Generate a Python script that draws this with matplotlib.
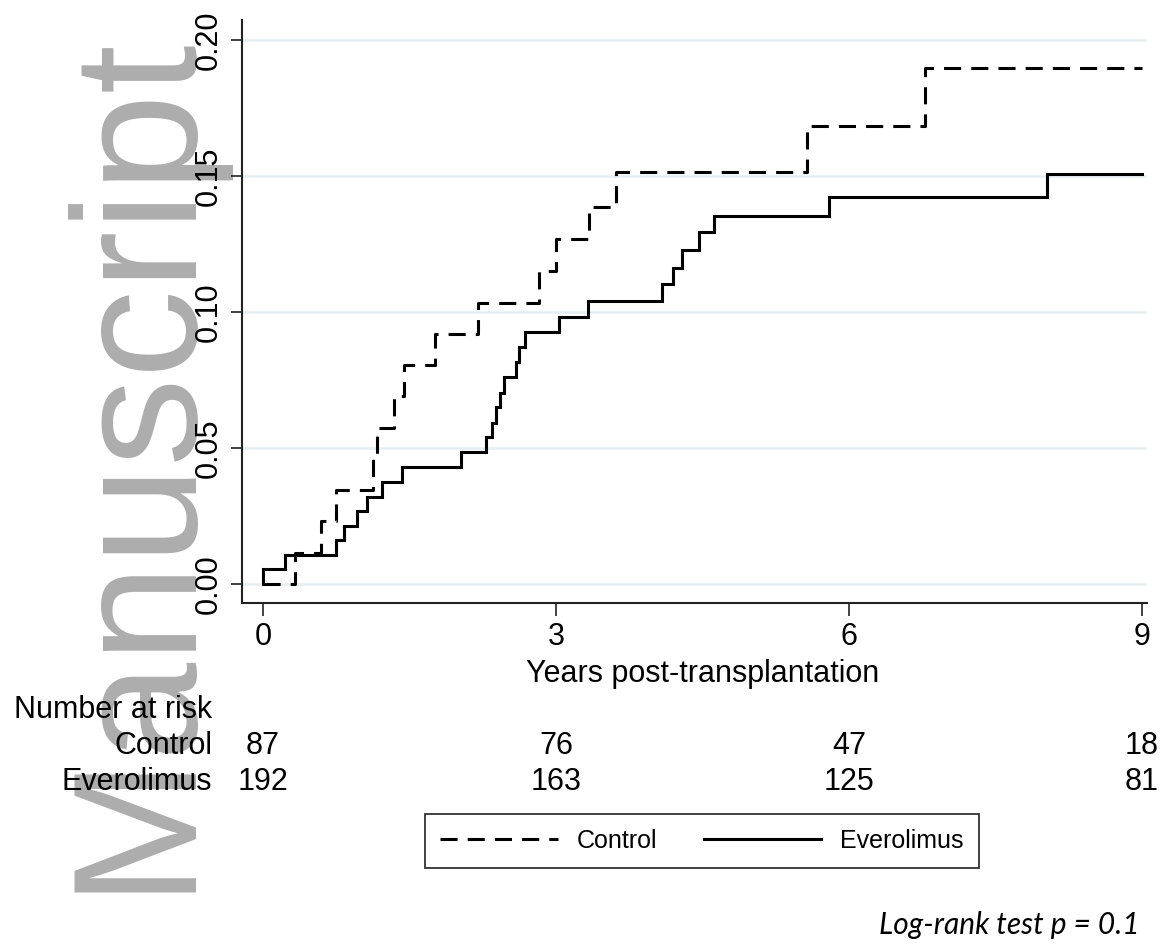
import matplotlib
matplotlib.use("Agg")
import matplotlib.pyplot as plt
from matplotlib.lines import Line2D
from matplotlib.transforms import blended_transform_factory

# ---------------- data ----------------
control_t = [0, 0.33, 0.59, 0.75, 1.13, 1.17, 1.34, 1.44, 1.76, 2.20, 2.83, 3.00,
             3.34, 3.61, 5.57, 6.78, 9.0]
control_y = [0, 0.0115, 0.0232, 0.0345, 0.046, 0.0575, 0.069, 0.0805, 0.092, 0.1034,
             0.1150, 0.1268, 0.1385, 0.1514, 0.1686, 0.1896, 0.1896]

evero_t = [0, 0, 0.225, 0.75, 0.83, 0.965, 1.06, 1.22, 1.42, 2.03, 2.28, 2.34, 2.39,
           2.43, 2.47, 2.59, 2.62, 2.68, 3.03, 3.33, 4.08, 4.20, 4.29, 4.46, 4.62,
           5.79, 8.03, 9.0]
evero_y = [0, 0.0054, 0.0105, 0.0162, 0.0213, 0.0267, 0.0319, 0.0375, 0.0429, 0.0484,
           0.0539, 0.0593, 0.0650, 0.0703, 0.0760, 0.0815, 0.0870, 0.0925, 0.0983,
           0.1039, 0.1102, 0.1163, 0.1228, 0.1293, 0.1355, 0.1424, 0.1507, 0.1507]

x_ticks = [0, 3, 6, 9]
y_ticks = [0.00, 0.05, 0.10, 0.15, 0.20]
y_tick_labels = ["0.00", "0.05", "0.10", "0.15", "0.20"]
risk_times = [0, 3, 6, 9]
risk_control = [87, 76, 47, 18]
risk_evero = [192, 163, 125, 81]
series_names = ["Control", "Everolimus"]

# ---------------- figure ----------------
W, H = 1171, 947
plt.rcParams['font.family'] = ['Liberation Sans', 'DejaVu Sans']
fig = plt.figure(figsize=(W / 100, H / 100), dpi=100)
fig.patch.set_facecolor('white')

def fx(px):
    return px / W

def fy(py):
    return 1 - py / H

ax = fig.add_axes([fx(242), fy(603), fx(1147) - fx(242), fy(20) - fy(603)])
ax.patch.set_alpha(0)
ax.set_xlim(-0.215, 9.05)
ax.set_ylim(-0.007, 0.2074)

lw = 2.2
dash = (0, (5.6, 3.3))
ax.step(control_t, control_y, where='post', color='black', lw=lw, linestyle=dash,
        solid_joinstyle='miter', dash_capstyle='butt')
ax.step(evero_t, evero_y, where='post', color='black', lw=lw,
        solid_joinstyle='miter')

for s in ['top', 'right']:
    ax.spines[s].set_visible(False)
for s in ['left', 'bottom']:
    ax.spines[s].set_linewidth(1.5)
    ax.spines[s].set_color('#222222')

ax.set_yticks(y_ticks)
ax.set_yticklabels(y_tick_labels, rotation=90, va='center', fontsize=22)
ax.set_xticks(x_ticks)
ax.set_xticklabels([str(v) for v in x_ticks], fontsize=22)
ax.tick_params(axis='y', length=8, width=1.2, pad=5, color='#222222')
ax.tick_params(axis='x', length=9.5, width=1.2, pad=4, color='#222222')
ax.yaxis.grid(True, color='#e6eef0', lw=1.8)
ax.set_axisbelow(True)

ax.set_xlabel("Years post-transplantation", fontsize=22)
ax.xaxis.set_label_coords((702.5 - 242) / 905, -(659 - 603) / 583)

# ---------------- watermark ----------------
fig.text(fx(182), fy(892), "Manuscript", rotation=90, rotation_mode='anchor',
         ha='left', va='baseline', fontsize=127, color='#adadad', zorder=-1)

# ---------------- risk table ----------------
fig.text(fx(212), fy(718), "Number at risk", ha='right', va='baseline', fontsize=22)
fig.text(fx(212), fy(754), series_names[0], ha='right', va='baseline', fontsize=22)
fig.text(fx(212), fy(790), series_names[1], ha='right', va='baseline', fontsize=22)
tr = blended_transform_factory(ax.transData, fig.transFigure)
for t, c, e in zip(risk_times, risk_control, risk_evero):
    ax.text(t, fy(754), str(c), transform=tr, ha='center', va='baseline',
            fontsize=22, clip_on=False)
    ax.text(t, fy(790), str(e), transform=tr, ha='center', va='baseline',
            fontsize=22, clip_on=False)

# ---------------- legend ----------------
handles = [Line2D([], [], color='black', lw=lw, linestyle=dash),
           Line2D([], [], color='black', lw=lw)]
leg = fig.legend(handles, series_names, loc='center',
                 bbox_to_anchor=(fx(702), fy(841)), ncol=2, fontsize=18,
                 handlelength=4.7, handletextpad=0.76, columnspacing=1.85,
                 borderpad=0.6, frameon=True, fancybox=False)
leg.get_frame().set_edgecolor('black')
leg.get_frame().set_linewidth(1.3)

# ---------------- log-rank ----------------
fig.text(fx(1140), fy(934), "Log-rank test p = 0.1", ha='right', va='baseline',
         fontsize=21.5, style='italic', family=['Lato', 'DejaVu Sans'])

fig.savefig("out.png", dpi=100)
